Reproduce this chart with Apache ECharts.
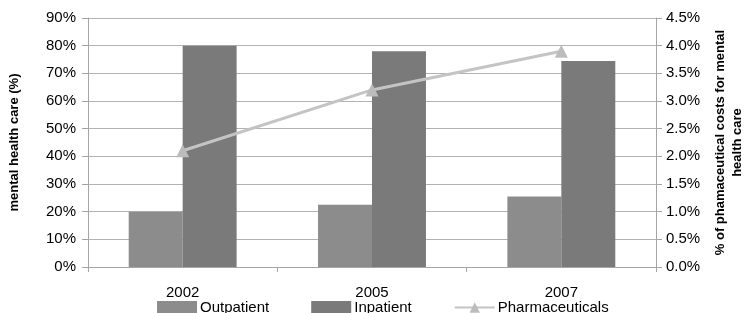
<!DOCTYPE html>
<html>
<head>
<meta charset="utf-8">
<script src="https://cdn.jsdelivr.net/npm/echarts@6/dist/echarts.min.js"></script>
<style>
  html, body { margin: 0; padding: 0; background: #fff; }
  #chart { width: 747px; height: 313px; }
</style>
</head>
<body>
<div id="chart"></div>
<script>
var years = ['2002', '2005', '2007'];
var outpatient = [20, 22.5, 25.5];
var inpatient = [80, 78, 74.5];
var pharmaceuticals = [2.1, 3.2, 3.9];

var font = 'Liberation Sans, Arial, Helvetica, sans-serif';
var chart = echarts.init(document.getElementById('chart'));
chart.setOption({
  backgroundColor: '#fff',
  animation: false,
  textStyle: { fontFamily: font },
  grid: { left: 88, right: 91, top: 18, bottom: 46, outerBoundsMode: 'none', containLabel: false },
  legend: {
    top: 295,
    left: 152,
    itemGap: 42,
    itemWidth: 40,
    itemHeight: 13,
    textStyle: { fontFamily: font, fontSize: 15, color: '#000', padding: [0, 0, 0, -2] },
    data: [
      { name: 'Outpatient', icon: 'rect' },
      { name: 'Inpatient', icon: 'rect' },
      { name: 'Pharmaceuticals' }
    ]
  },
  xAxis: {
    type: 'category',
    data: years,
    axisLine: { lineStyle: { color: '#a6a6a6' } },
    axisTick: { show: true, length: 5, lineStyle: { color: '#a6a6a6' } },
    axisLabel: { color: '#000', fontSize: 15, margin: 18 }
  },
  yAxis: [{
    type: 'value',
    min: 0, max: 90, interval: 10,
    name: 'mental health care (%)',
    nameLocation: 'middle',
    nameRotate: 90,
    nameGap: 67,
    nameTextStyle: { fontFamily: font, fontSize: 13, fontWeight: 'bold', color: '#000' },
    axisLine: { show: true, lineStyle: { color: '#a6a6a6' } },
    axisTick: { show: true, length: 6, lineStyle: { color: '#a6a6a6' } },
    axisLabel: { color: '#000', fontSize: 15, margin: 12, formatter: '{value}%' },
    splitLine: { lineStyle: { color: '#b3b3b3' } }
  }, {
    type: 'value',
    min: 0, max: 4.5, interval: 0.5,
    name: '% of phamaceutical costs for mental\nhealth care',
    nameLocation: 'middle',
    nameRotate: 90,
    nameGap: 56,
    nameTextStyle: { fontFamily: font, fontSize: 13, fontWeight: 'bold', color: '#000', lineHeight: 17, align: 'center' },
    axisLine: { show: true, lineStyle: { color: '#a6a6a6' } },
    axisTick: { show: true, length: 6, lineStyle: { color: '#a6a6a6' } },
    axisLabel: { color: '#000', fontSize: 15, margin: 10, formatter: function (v) { return v.toFixed(1) + '%'; } },
    splitLine: { show: false }
  }],
  series: [{
    name: 'Outpatient',
    type: 'bar',
    data: outpatient,
    barGap: '0%',
    barCategoryGap: '43%',
    itemStyle: { color: '#8c8c8c' }
  }, {
    name: 'Inpatient',
    type: 'bar',
    data: inpatient,
    itemStyle: { color: '#7a7a7a' }
  }, {
    name: 'Pharmaceuticals',
    type: 'line',
    yAxisIndex: 1,
    data: pharmaceuticals,
    symbol: 'triangle',
    symbolSize: 13,
    lineStyle: { color: '#c4c4c4', width: 3 },
    itemStyle: { color: '#bcbcbc' }
  }]
});
</script>
</body>
</html>
